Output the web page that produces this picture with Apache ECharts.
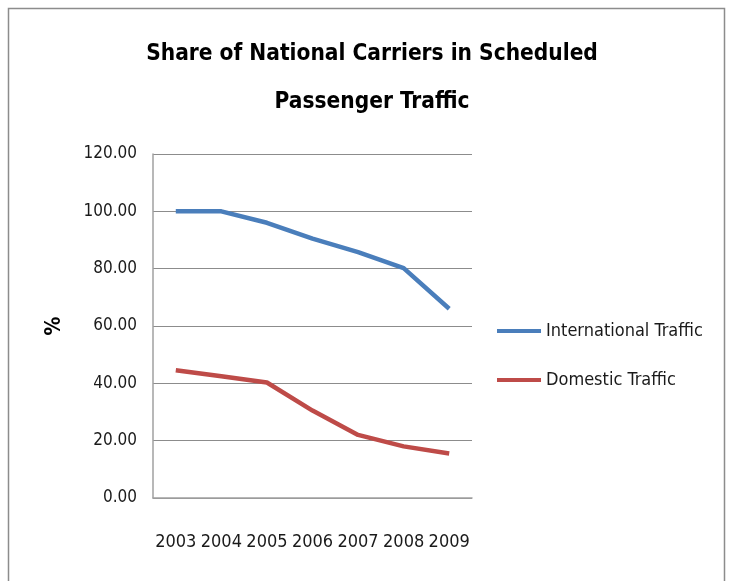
<!DOCTYPE html>
<html><head><meta charset="utf-8">
<script src="https://cdn.jsdelivr.net/npm/echarts@6/dist/echarts.min.js"></script>
<style>html,body{margin:0;padding:0;background:#fff}#c{width:729px;height:581px}</style>
</head><body><div id="c"></div>
<script>
var years = ['2003','2004','2005','2006','2007','2008','2009'];
var international = [100, 100, 96, 90.5, 85.8, 80.2, 66];
var domestic = [44.6, 42.5, 40.3, 30.5, 22, 18, 15.5];
var yTicks = {min: 0, max: 120, interval: 20};
var FONT = '"DejaVu Sans Condensed", "Liberation Sans", sans-serif';
var chart = echarts.init(document.getElementById('c'));
chart.setOption({
  animation: false,
  title: {
    text: 'Share of National Carriers in Scheduled\nPassenger Traffic',
    left: 367, top: 25, textAlign: 'center',
    textStyle: {fontFamily: FONT, fontSize: 22.5, fontWeight: 'bold', color: '#000', lineHeight: 48}
  },
  graphic: [{type: 'rect', shape: {x: 8.5, y: 8.5, width: 716, height: 600}, style: {fill: 'none', stroke: '#8c8c8c', lineWidth: 1.5}}],
  legend: {
    orient: 'vertical', left: 492, top: 317, itemGap: 31, itemWidth: 44, itemHeight: 4,
    icon: 'rect',
    textStyle: {fontFamily: FONT, fontSize: 18, color: '#1a1a1a'},
    data: ['International Traffic', 'Domestic Traffic']
  },
  grid: {left: 153, right: 257, top: 154, bottom: 83},
  xAxis: {
    type: 'category', data: years, boundaryGap: true,
    axisLine: {lineStyle: {color: '#a0a0a0', width: 1.5}},
    axisTick: {show: false},
    axisLabel: {fontFamily: FONT, fontSize: 18, color: '#1a1a1a', margin: 35, interval: 0}
  },
  yAxis: {
    type: 'value', min: yTicks.min, max: yTicks.max, interval: yTicks.interval,
    name: '%', nameLocation: 'middle', nameGap: 88, nameRotate: 90,
    nameTextStyle: {fontFamily: FONT, fontSize: 21, fontWeight: 'bold', color: '#000'},
    axisLine: {show: true, lineStyle: {color: '#a0a0a0', width: 1.5}},
    axisTick: {show: false},
    splitLine: {lineStyle: {color: '#8c8c8c', width: 1}},
    axisLabel: {fontFamily: FONT, fontSize: 17, color: '#1a1a1a', margin: 16, formatter: function(v){return v.toFixed(2);}}
  },
  series: [
    {name: 'International Traffic', type: 'line', data: international, symbol: 'none', lineStyle: {color: '#4A7EBB', width: 4.5}, itemStyle: {color: '#4A7EBB'}},
    {name: 'Domestic Traffic', type: 'line', data: domestic, symbol: 'none', lineStyle: {color: '#BE4B48', width: 4.5}, itemStyle: {color: '#BE4B48'}}
  ]
});
</script></body></html>
